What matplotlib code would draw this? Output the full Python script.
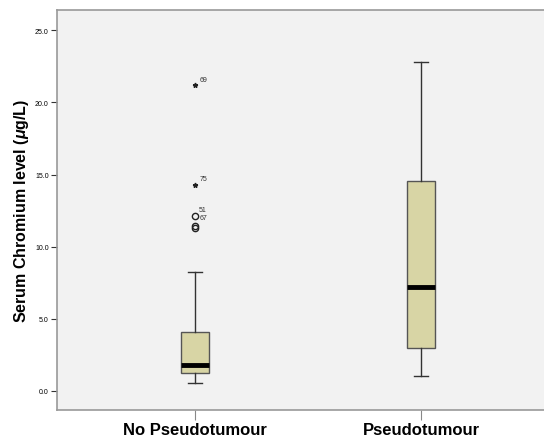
import matplotlib
matplotlib.use("Agg")
from matplotlib import pyplot as plt

plt.rcParams["font.family"] = ["Liberation Sans", "DejaVu Sans"]
plt.rcParams["mathtext.fontset"] = "custom"
plt.rcParams["mathtext.it"] = "Liberation Sans:italic:bold"
plt.rcParams["mathtext.rm"] = "Liberation Sans:bold"

groups = ["No Pseudotumour", "Pseudotumour"]
whislo = [0.55, 1.04]
q1 = [1.25, 2.98]
med = [1.8, 7.2]
q3 = [4.1, 14.55]
whishi = [8.24, 22.8]

# outliers of group 1
star_vals = [21.2, 14.3]
star_ids = ["69", "75"]
circ_vals = [12.1, 11.4, 11.3]
circ_ids = ["51", "67", ""]

box_color = "#D8D5A5"

fig = plt.figure(figsize=(5.44, 4.39), dpi=100)
ax = fig.add_axes([0.1048, 0.0638, 0.897, 0.911])
ax.set_facecolor("#F2F2F2")

stats = []
for i in range(len(groups)):
    stats.append(dict(whislo=whislo[i], q1=q1[i], med=med[i], q3=q3[i],
                      whishi=whishi[i], fliers=[]))

ax.bxp(stats, positions=[1, 2], widths=0.12, patch_artist=True,
       showfliers=False,
       boxprops=dict(facecolor=box_color, edgecolor="#555555", linewidth=1),
       medianprops=dict(color="black", linewidth=3.5),
       whiskerprops=dict(color="#333333", linewidth=1),
       capprops=dict(color="#333333", linewidth=1),
       capwidths=0.06)

ax.plot([1] * len(star_vals), star_vals, linestyle="none", marker="*",
        color="#222222", markersize=3.5)
ax.plot([1] * len(circ_vals), circ_vals, linestyle="none", marker="o",
        markerfacecolor="none", markeredgecolor="#222222", markersize=4.5,
        markeredgewidth=1)

for v, t in zip(star_vals, star_ids):
    ax.annotate(t, (1, v), xytext=(3, 3), textcoords="offset points",
                fontsize=5, color="#333333")
ax.annotate(circ_ids[0], (1, circ_vals[0]), xytext=(3, 4),
            textcoords="offset points", fontsize=5, color="#333333")
ax.annotate(circ_ids[1], (1, circ_vals[0]), xytext=(3, -2),
            textcoords="offset points", fontsize=5, color="#333333")

ax.set_xlim(0.389, 2.549)
ax.set_ylim(-1.32, 26.4)
ax.set_yticks([0, 5, 10, 15, 20, 25])
ax.set_yticklabels(["0.0", "5.0", "10.0", "15.0", "20.0", "25.0"], fontsize=5)
ax.set_xticks([1, 2])
ax.set_xticklabels(groups, fontsize=12, fontweight="bold")
ax.tick_params(axis="y", length=4, color="#333333", pad=2)
ax.tick_params(axis="x", length=7, color="#888888", pad=2)

for s in ["top", "left", "bottom"]:
    ax.spines[s].set_color("#999999")
    ax.spines[s].set_linewidth(1.2)
ax.spines["right"].set_visible(False)

ax.set_ylabel("Serum Chromium level ($\\mu$g/L)", fontsize=11.5,
              fontweight="bold", labelpad=3)

fig.savefig("out.png", dpi=100)
